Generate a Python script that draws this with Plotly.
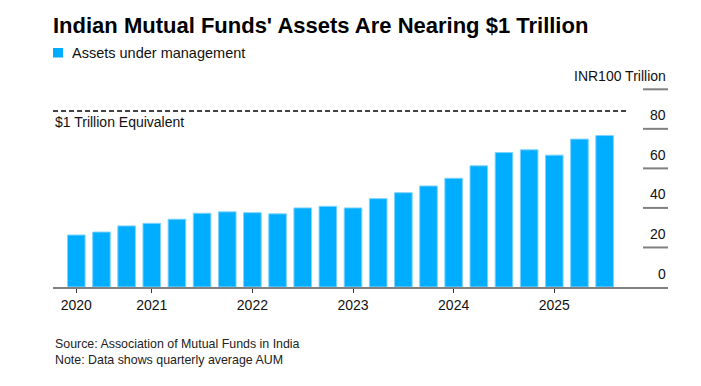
import plotly.graph_objects as go

quarters = ["Jun 2020", "Sep 2020", "Dec 2020",
            "Mar 2021", "Jun 2021", "Sep 2021", "Dec 2021",
            "Mar 2022", "Jun 2022", "Sep 2022", "Dec 2022",
            "Mar 2023", "Jun 2023", "Sep 2023", "Dec 2023",
            "Mar 2024", "Jun 2024", "Sep 2024", "Dec 2024",
            "Mar 2025", "Jun 2025", "Sep 2025"]
aum = [26.3, 27.8, 30.9, 32.2, 34.3, 37.3, 38.0, 37.6, 37.0, 40.0, 40.8,
       40.0, 44.7, 47.7, 51.1, 55.0, 61.3, 68.0, 69.4, 66.7, 74.8, 76.6]
year_ticks = ["Jun 2020", "Mar 2021", "Mar 2022", "Mar 2023", "Mar 2024", "Mar 2025"]
year_labels = ["2020", "2021", "2022", "2023", "2024", "2025"]
y_ticks = [0, 20, 40, 60, 80, 100]
y_labels = ["0", "20", "40", "60", "80", "INR100 Trillion"]
trillion_level = 89.0
series_name = "Assets under management"

# page body has an 8px margin, so figure coordinates = screen - 8
W, H = 685, 370
L, R, T, B = 45, 25, 52, 91
pw = W - L - R
ph = H - T - B

FONT = "Liberation Sans, Arial, sans-serif"
BAR_COLOR = "#00adff"

fig = go.Figure()
fig.add_trace(go.Bar(
    x=quarters, y=aum, name=series_name,
    marker=dict(color=BAR_COLOR, line=dict(color="#7fd3ff", width=1)),
    width=0.7, showlegend=False,
))

shapes = []
annotations = []
# legend (custom, to match spacing)
shapes.append(dict(type="rect", xref="paper", yref="paper",
                   x0=0, x1=10 / pw, y0=1 + (T - 49.5) / ph, y1=1 + (T - 40) / ph,
                   fillcolor=BAR_COLOR, line=dict(width=0)))
annotations.append(dict(text=series_name, xref="paper", yref="paper",
                        x=17 / pw, y=1 + (T - 44.5) / ph, xanchor="left", yanchor="middle",
                        showarrow=False, font=dict(size=14.5, color="#111111", family=FONT)))
# dashed $1 trillion line
shapes.append(dict(type="line", xref="paper", yref="y", x0=0, x1=(620 - L) / pw,
                   y0=trillion_level, y1=trillion_level,
                   line=dict(color="#444444", width=2, dash="5px,3px")))
annotations.append(dict(text="$1 Trillion Equivalent", xref="paper", yref="y",
                        x=0, y=trillion_level, xanchor="left", yanchor="top",
                        yshift=-1, showarrow=False,
                        font=dict(size=14, color="#111111", family=FONT)))
# right-side value ticks and labels
for v, lab in zip(y_ticks, y_labels):
    if v > 0:
        shapes.append(dict(type="line", xref="paper", yref="y",
                           x0=(635 - L) / pw, x1=1, y0=v, y1=v,
                           line=dict(color="#808080", width=2)))
    annotations.append(dict(text=lab, xref="paper", yref="y", x=1, y=v,
                            xanchor="right", yanchor="bottom", yshift=3.5,
                            showarrow=False,
                            font=dict(size=14, color="#111111", family=FONT)))
# footnotes
annotations.append(dict(text="Source: Association of Mutual Funds in India<br>Note: Data shows quarterly average AUM",
                        xref="paper", yref="paper", x=0, y=-(344 - T - ph) / ph,
                        xanchor="left", yanchor="middle", align="left",
                        showarrow=False,
                        font=dict(size=12.4, color="#222222", family=FONT)))

fig.update_layout(
    width=W, height=H,
    margin=dict(l=L, r=R, t=T, b=B, autoexpand=False),
    paper_bgcolor="white", plot_bgcolor="white",
    font=dict(family=FONT, color="#111111", size=14),
    title=dict(text="<b>Indian Mutual Funds' Assets Are Nearing $1 Trillion</b>",
               xref="container", yref="container", x=L / W, y=1 - 17 / H,
               xanchor="left", yanchor="middle",
               font=dict(size=22, color="#000000", family=FONT)),
    showlegend=False,
    bargap=0.3,
    xaxis=dict(type="category", range=[-0.926, 23.52],
               tickvals=year_ticks, ticktext=year_labels,
               ticks="outside", ticklen=4, tickcolor="#333333", tickwidth=1,
               showline=True, linecolor="#808080", linewidth=2,
               showgrid=False, zeroline=False,
               tickfont=dict(size=14, color="#111111")),
    yaxis=dict(range=[0, ph / 1.977], showticklabels=False, showgrid=False,
               zeroline=False, showline=False, ticks=""),
    shapes=shapes, annotations=annotations,
)

fig.write_html("out.html")
